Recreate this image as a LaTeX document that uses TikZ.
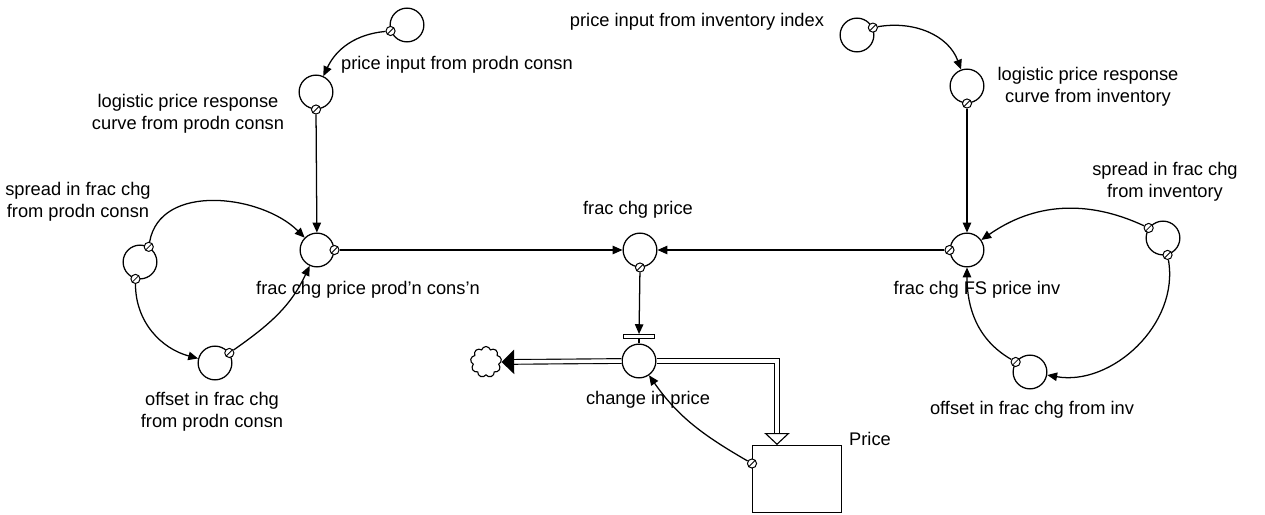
\documentclass[tikz,border=0pt]{standalone}
\usepackage{fontspec}
\setmainfont{Liberation Sans}
\usetikzlibrary{arrows.meta,positioning,shapes.symbols}

\begin{document}
\begin{tikzpicture}[
  x=0.025cm, y=-0.025cm,
  font=\fontsize{13}{15.5}\selectfont,
  var/.style={circle, draw, line width=0.9pt, minimum size=24pt, inner sep=0pt},
  tail/.style={circle, draw, fill=white, line width=0.7pt, minimum size=6.5pt, inner sep=0pt,
    path picture={\draw[line width=0.6pt] (path picture bounding box.south west) -- (path picture bounding box.north east);}},
  link/.style={-{Triangle[length=7pt,width=6pt]}, line width=0.9pt},
  pipe/.style={double, double distance=2.5pt, line width=0.8pt},
  pipetip/.style={white, line width=2pt},
  lbl/.style={align=center, inner sep=0pt},
  stock/.style={draw, line width=1pt, minimum width=63pt, minimum height=48pt, inner sep=0pt}
]
\useasboundingbox (0,0) rectangle (1265,514);

% auxiliaries, production/consumption side
\node[var] (pinprod) at (407,25) {};
\node[var] (lrcprod) at (316,92) {};
\node[var] (fcprod) at (317,250) {};
\node[var] (spprod) at (140,262) {};
\node[var] (offprod) at (215,363) {};
% auxiliaries, inventory side
\node[var] (pininv) at (857,35) {};
\node[var] (lrcinv) at (967,86) {};
\node[var] (fcinv) at (967,250) {};
\node[var] (spinv) at (1163,238) {};
\node[var] (offinv) at (1030,372) {};
% rate, stock, cloud
\node[var] (fcp) at (640,250) {};
\node[var] (chg) at (639,361) {};
\node[draw, fill=white, minimum width=22pt, minimum height=2.5pt, inner sep=0pt, line width=0.7pt, above=3.5pt of chg] (valve) {};
\node[stock] (price) at (797,479) {};
\node[cloud, cloud puffs=9, aspect=1, draw, line width=0.8pt, minimum size=22pt, inner sep=0pt] (cloud) at (486,362) {};
\coordinate (inlet) at (777,445);

% labels
\node[lbl] (l1) at (457,65) {price input from prodn consn};
\node[lbl] (l2) at (188,114) {logistic price response\\curve from prodn consn};
\node[lbl] (l3) at (78,202) {spread in frac chg\\from prodn consn};
\node[lbl] (l4) at (368,290) {frac chg price prod'n cons'n};
\node[lbl] (l5) at (212,412) {offset in frac chg\\from prodn consn};
\node[lbl] (l6) at (638,210) {frac chg price};
\node[lbl] (l7) at (648,400) {change in price};
\node[lbl] (l8) at (870,439) {Price};
\node[lbl] (l9) at (697,22) {price input from inventory index};
\node[lbl] (l10) at (1088,87) {logistic price response\\curve from inventory};
\node[lbl] (l11) at (1165,182) {spread in frac chg\\from inventory};
\node[lbl] (l12) at (977,290) {frac chg FS price inv};
\node[lbl] (l13) at (1032,410) {offset in frac chg from inv};

% flow pipe, heads drawn on a white core line
\draw[pipe, shorten >=6pt] (chg.west) -- (cloud.east);
\draw[pipetip, -{Triangle[black, length=9pt, width=17pt]}] (chg.west) -- (cloud.east);
\draw[pipe, shorten >=6pt] (chg.east) -| (inlet);
\draw[pipetip, -{Triangle[open, black, fill=white, line width=0.8pt, length=8.5pt, width=18pt]}] (chg.east) -| (inlet);
\draw[line width=0.9pt] (valve) -- (chg);

% connector tails
\node[tail] (t1) at (pinprod.200) {};
\node[tail] (t2) at (lrcprod.south) {};
\node[tail] (t3) at (fcprod.east) {};
\node[tail] (t4) at (spprod.60) {};
\node[tail] (t5) at (spprod.255) {};
\node[tail] (t6) at (offprod.35) {};
\node[tail] (t7) at (fcp.south) {};
\node[tail] (t8) at (price.161) {};
\node[tail] (t9) at (pininv.25) {};
\node[tail] (t10) at (lrcinv.south) {};
\node[tail] (t11) at (fcinv.west) {};
\node[tail] (t12) at (spinv.145) {};
\node[tail] (t13) at (spinv.285) {};
\node[tail] (t14) at (offinv.145) {};

% connectors
\draw[link] (t1) to[out=185,in=65] (lrcprod);
\draw[link] (t2) -- (fcprod);
\draw[link] (t3) -- (fcp);
\draw[link] (t4) to[out=80,in=135] (fcprod);
\draw[link] (t5) to[out=-90,in=165] (offprod);
\draw[link] (t6) to[out=35,in=-115] (fcprod);
\draw[link] (t7) -- (valve);
\draw[link] (t8) to[out=150,in=-55] (chg);
\draw[link] (t9) to[out=10,in=110] (lrcinv);
\draw[link] (t10) -- (fcinv);
\draw[link] (t11) -- (fcp);
\draw[link] (t12) to[out=155,in=35] (fcinv);
\draw[link] (t13) to[out=-80,in=-10] (offinv);
\draw[link] (t14) to[out=150,in=-90] (fcinv);
\end{tikzpicture}
\end{document}
